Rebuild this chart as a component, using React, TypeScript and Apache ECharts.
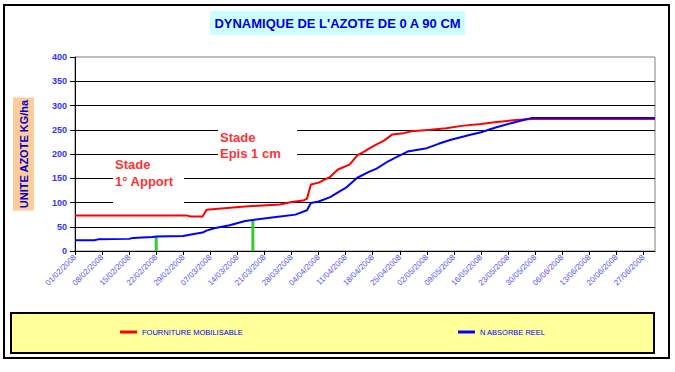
import React, { useEffect, useRef } from "react";
import * as echarts from "echarts";

// Daily categories 01/02/2008 .. 30/06/2008
const START_UTC = Date.UTC(2008, 1, 1);
const DAY_COUNT = 151;
const pad = (n: number) => (n < 10 ? "0" + n : "" + n);
const CATEGORIES: string[] = [];
for (let i = 0; i < DAY_COUNT; i++) {
  const d = new Date(START_UTC + i * 86400000);
  CATEGORIES.push(pad(d.getUTCDate()) + "/" + pad(d.getUTCMonth() + 1) + "/" + d.getUTCFullYear());
}

const TITLE = "DYNAMIQUE DE L'AZOTE DE 0 A 90 CM";
const Y_NAME = "UNITE AZOTE KG/ha";
const RED_NAME = "FOURNITURE MOBILISABLE";
const BLUE_NAME = "N ABSORBE REEL";

const RED_DATES = [
  "01/02/2008", "01/03/2008", "02/03/2008", "05/03/2008", "06/03/2008", "16/03/2008",
  "25/03/2008", "28/03/2008", "31/03/2008", "01/04/2008", "02/04/2008", "04/04/2008",
  "07/04/2008", "09/04/2008", "12/04/2008", "14/04/2008", "16/04/2008", "17/04/2008",
  "19/04/2008", "21/04/2008", "23/04/2008", "26/04/2008", "28/04/2008", "03/05/2008",
  "07/05/2008", "11/05/2008", "16/05/2008", "20/05/2008", "25/05/2008", "29/05/2008",
  "30/06/2008",
];
const RED_VALUES = [
  73, 73, 71, 71, 85, 92,
  96, 101, 104, 108, 137, 141,
  153, 168, 178, 197, 206, 211,
  220, 228, 240, 243, 247, 250,
  253, 258, 262, 266, 270, 272,
  272,
];

const BLUE_DATES = [
  "01/02/2008", "06/02/2008", "07/02/2008", "15/02/2008", "16/02/2008", "21/02/2008",
  "22/02/2008", "29/02/2008", "02/03/2008", "05/03/2008", "06/03/2008", "08/03/2008",
  "12/03/2008", "16/03/2008", "18/03/2008", "24/03/2008", "29/03/2008", "01/04/2008",
  "02/04/2008", "04/04/2008", "07/04/2008", "09/04/2008", "11/04/2008", "14/04/2008",
  "17/04/2008", "19/04/2008", "22/04/2008", "24/04/2008", "27/04/2008", "02/05/2008",
  "05/05/2008", "08/05/2008", "13/05/2008", "16/05/2008", "20/05/2008", "24/05/2008",
  "27/05/2008", "29/05/2008", "30/06/2008",
];
const BLUE_VALUES = [
  22, 22, 24, 25, 27, 29,
  30, 31, 34, 38, 42, 47,
  53, 62, 64, 70, 75, 84,
  99, 102, 111, 121, 130, 151,
  163, 170, 185, 193, 205, 212,
  221, 229, 239, 245, 255, 264,
  270, 274, 274,
];

// Application markers (green bars)
const APPORT_DATES = ["22/02/2008", "18/03/2008"];
const APPORT_VALUES = [30, 62];

const Y_MIN = 0;
const Y_MAX = 400;
const Y_INTERVAL = 50;

export default function App() {
  const ref = useRef<HTMLDivElement>(null);

  useEffect(() => {
    if (!ref.current) return;
    const chart = echarts.init(ref.current, undefined, { renderer: "svg" });
    const font = "Arial, 'Liberation Sans', sans-serif";
    const splitColors = [] as string[];
    for (let v = Y_MIN; v <= Y_MAX; v += Y_INTERVAL) splitColors.push(v === Y_MAX ? "#808080" : "#000000");

    const legendBase = {
      top: 328,
      padding: 0,
      icon: "rect",
      itemWidth: 17,
      itemHeight: 3,
      textStyle: { fontFamily: font, fontSize: 7.5, color: "#0000FF" },
    };

    chart.setOption({
      animation: false,
      backgroundColor: "#ffffff",
      title: {
        text: TITLE,
        left: "center",
        top: 11,
        backgroundColor: "#CCFFFF",
        padding: [5, 4, 5, 4],
        textStyle: { fontFamily: font, fontSize: 13, fontWeight: "bold", color: "#0000DD", lineHeight: 14 },
      },
      grid: {
        left: 75,
        right: 20,
        top: 57,
        bottom: 121,
        show: true,
        borderColor: "#808080",
        borderWidth: 1,
        backgroundColor: "transparent",
      },
      legend: [
        { ...legendBase, data: [RED_NAME], left: 120 },
        { ...legendBase, data: [BLUE_NAME], left: 458 },
      ],
      xAxis: {
        type: "category",
        data: CATEGORIES,
        boundaryGap: false,
        axisLine: { lineStyle: { color: "#000000", width: 1 } },
        axisTick: { show: true, interval: 6, length: 4, lineStyle: { color: "#000000" } },
        axisLabel: { interval: 6, rotate: 45, fontSize: 8, color: "#5555FF", margin: 5, fontFamily: font },
        splitLine: { show: false },
      },
      yAxis: {
        type: "value",
        min: Y_MIN,
        max: Y_MAX,
        interval: Y_INTERVAL,
        name: Y_NAME,
        nameLocation: "middle",
        nameRotate: 90,
        nameGap: 41,
        nameTextStyle: {
          fontFamily: font,
          fontSize: 11,
          fontWeight: "bold",
          color: "#0000CC",
          backgroundColor: "#FFCC99",
          padding: [4, 2, 4, 2],
          lineHeight: 13,
        },
        axisLine: { show: true, lineStyle: { color: "#000000", width: 1 } },
        axisTick: { show: true, length: 5, lineStyle: { color: "#000000" } },
        axisLabel: { fontSize: 9, fontWeight: "bold", color: "#3333FF", margin: 8, fontFamily: font },
        splitLine: { show: true, showMaxLine: false, lineStyle: { color: splitColors, width: 1 } },
      },
      series: [
        {
          type: "bar",
          name: "APPORT",
          data: APPORT_DATES.map((d, i) => [d, APPORT_VALUES[i]]),
          barWidth: 3,
          itemStyle: { color: "#33CC33" },
          z: 1,
        },
        {
          type: "line",
          name: RED_NAME,
          data: RED_DATES.map((d, i) => [d, RED_VALUES[i]]),
          symbol: "none",
          lineStyle: { color: "#FF0000", width: 2 },
          itemStyle: { color: "#FF0000" },
          z: 2,
        },
        {
          type: "line",
          name: BLUE_NAME,
          data: BLUE_DATES.map((d, i) => [d, BLUE_VALUES[i]]),
          symbol: "none",
          lineStyle: { color: "#0000FF", width: 2 },
          itemStyle: { color: "#0000FF" },
          z: 3,
        },
      ],
      graphic: [
        {
          type: "rect",
          z: 0,
          shape: { x: 4, y: 5, width: 665, height: 353 },
          style: { fill: "none", stroke: "#000000", lineWidth: 2 },
        },
        {
          type: "rect",
          z: 0,
          shape: { x: 11, y: 313, width: 643, height: 40 },
          style: { fill: "#FFFF99", stroke: "#000000", lineWidth: 2 },
        },
        {
          type: "rect",
          z: 5,
          shape: { x: 113, y: 157, width: 71, height: 52 },
          style: { fill: "#ffffff" },
        },
        {
          type: "text",
          z: 6,
          x: 115,
          y: 156,
          style: {
            text: "Stade\n1° Apport",
            fontFamily: font,
            fontSize: 13,
            fontWeight: "bold",
            lineHeight: 17,
            fill: "#FF3333",
          },
        },
        {
          type: "rect",
          z: 5,
          shape: { x: 218, y: 116, width: 79, height: 52 },
          style: { fill: "#ffffff" },
        },
        {
          type: "text",
          z: 6,
          x: 220,
          y: 129,
          style: {
            text: "Stade\nEpis 1 cm",
            fontFamily: font,
            fontSize: 13,
            fontWeight: "bold",
            lineHeight: 16,
            fill: "#FF3333",
          },
        },
      ],
    });

    return () => chart.dispose();
  }, []);

  return (
    <div
      ref={ref}
      style={{ position: "absolute", left: 0, top: 0, width: 675, height: 372, background: "#ffffff" }}
    />
  );
}
